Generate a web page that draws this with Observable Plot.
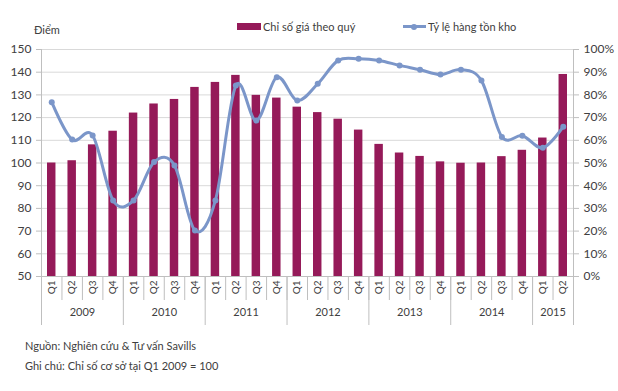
<!DOCTYPE html>
<html>
<head>
<meta charset="utf-8">
<script src="https://cdn.jsdelivr.net/npm/d3@7"></script>
<script src="https://cdn.jsdelivr.net/npm/@observablehq/plot@0.6"></script>
<style>
  html, body { margin: 0; padding: 0; background: #fff; }
  #wrap { position: relative; width: 618px; height: 391px; overflow: hidden; font-family: Lato, "Open Sans", sans-serif; color: #404040; }
  .abs { position: absolute; white-space: nowrap; font-size: 11px; line-height: 12px; }
  #chart { position: absolute; left: 0; top: 36px; }
  .sw-bar { position: absolute; width: 24px; height: 7px; background: #951a59; }
  .sw-line { position: absolute; width: 23px; height: 3px; background: #7b96c9; }
  .sw-dot { position: absolute; width: 6px; height: 6px; border-radius: 50%; background: #7b96c9; }
</style>
</head>
<body>
<div id="wrap">
  <div class="abs" style="left:34px; top:24px;">Điểm</div>
  <div class="sw-bar" style="left:237px; top:23px;"></div>
  <div class="abs" style="left:263px; top:21px;">Chỉ số giá theo quý</div>
  <div class="sw-line" style="left:403px; top:25px;"></div>
  <div class="sw-dot" style="left:411px; top:23.5px;"></div>
  <div class="abs" style="left:428px; top:21px;">Tỷ lệ hàng tồn kho</div>
  <div id="chart"></div>
  <div class="abs" style="left:25px; top:340px;">Nguồn: Nghiên cứu &amp; Tư vấn Savills</div>
  <div class="abs" style="left:25px; top:360px;">Ghi chú: Chỉ số cơ sở tại Q1 2009 = 100</div>
</div>
<script>
const years = ["2009","2010","2011","2012","2013","2014","2015"];
const quarterLabels = ["Q1","Q2","Q3","Q4","Q1","Q2","Q3","Q4","Q1","Q2","Q3","Q4","Q1","Q2","Q3","Q4","Q1","Q2","Q3","Q4","Q1","Q2","Q3","Q4","Q1","Q2"];
const quartersPerYear = [4,4,4,4,4,4,2];
const priceIndex = [100, 101, 108, 114, 122, 126, 128, 133.3, 135.5, 138.6, 129.8, 128.6, 124.6, 122.2, 119.3, 114.5, 108.2, 104.4, 102.9, 100.5, 99.9, 100, 102.8, 105.6, 111, 139];
const inventoryPct = [76.8, 60.3, 62.1, 33.5, 33.5, 50.4, 48.9, 20.3, 33.5, 84.1, 68.7, 87.8, 77.5, 84.9, 95.2, 95.9, 95.2, 93, 91.1, 89, 91.1, 86.3, 61.5, 62, 56.7, 66];
const leftTicks = [50,60,70,80,90,100,110,120,130,140,150];

const data = quarterLabels.map((q, i) => ({i, q, price: priceIndex[i], pct: inventoryPct[i]}));
const bounds = [0];
quartersPerYear.forEach(n => bounds.push(bounds[bounds.length - 1] + n));
const yearMids = years.map((y, k) => (bounds[k] + bounds[k + 1]) / 2);
const quarterEdges = d3.range(0, quarterLabels.length + 1);
const quarterCenters = data.map(d => d.i + 0.5);

const axisColor = "#bfbfbf";
const textColor = "#404040";

const chart = Plot.plot({
  width: 618,
  height: 296,
  marginTop: 13,
  marginBottom: 56,
  marginLeft: 41,
  marginRight: 45,
  style: {fontFamily: "Lato, 'Open Sans', sans-serif", fontSize: "11px", color: textColor, background: "white"},
  x: {type: "linear", domain: [0, quarterLabels.length], axis: null},
  y: {domain: [50, 150], axis: null},
  marks: [
    Plot.gridY(leftTicks, {stroke: "#d9d9d9", strokeOpacity: 1}),
    Plot.axisY(leftTicks, {anchor: "left", tickSize: 5, tickPadding: 5, stroke: axisColor, fill: textColor, fontSize: 12, label: null}),
    Plot.axisY(leftTicks, {anchor: "right", tickSize: 5, tickPadding: 5, stroke: axisColor, fill: textColor, fontSize: 12, label: null, tickFormat: d => (d - 50) + "%"}),
    Plot.ruleX([0, quarterLabels.length], {stroke: axisColor}),
    Plot.rectY(data, {x: "i", interval: 1, y1: 50, y2: "price", fill: "#951a59", insetLeft: 6, insetRight: 6}),
    Plot.line(data, {x: d => d.i + 0.5, y: d => d.pct + 50, stroke: "#7b96c9", strokeWidth: 3, curve: "cardinal"}),
    Plot.dot(data, {x: d => d.i + 0.5, y: d => d.pct + 50, fill: "#7b96c9", r: 3}),
    Plot.axisX(quarterEdges, {tickSize: 24, stroke: axisColor, tickFormat: () => "", label: null}),
    Plot.axisX(bounds, {tickSize: 49, stroke: axisColor, tickFormat: () => "", label: null}),
    Plot.axisX(quarterCenters, {tickSize: 0, tickPadding: 4, tickRotate: -90, tickFormat: (d, k) => quarterLabels[k], fill: textColor, fontSize: 10, label: null}),
    Plot.axisX(yearMids, {tickSize: 0, tickPadding: 32, tickFormat: (d, k) => years[k], fill: textColor, fontSize: 11, label: null}),
    Plot.ruleY([50], {stroke: axisColor})
  ]
});
document.getElementById("chart").appendChild(chart);
</script>
</body>
</html>
